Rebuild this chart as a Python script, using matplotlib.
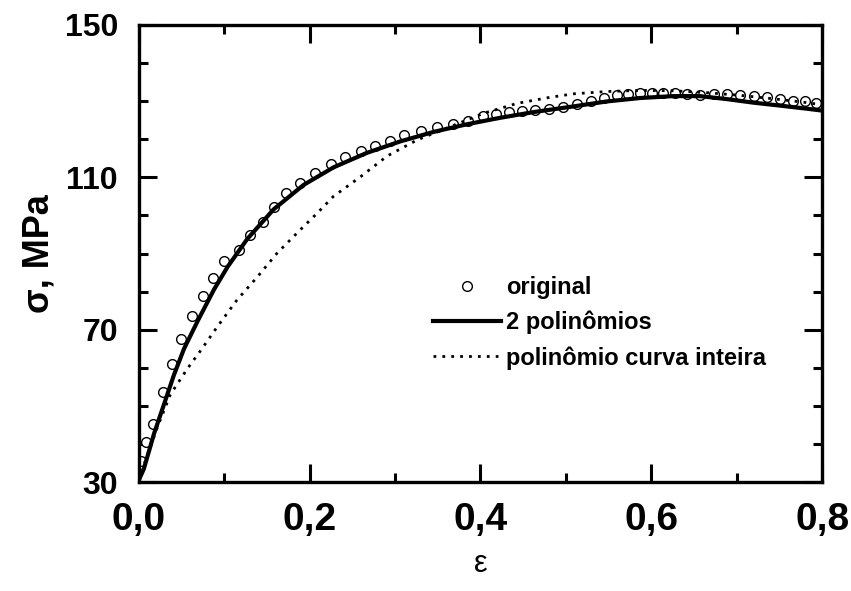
import matplotlib
matplotlib.use("Agg")
import matplotlib.pyplot as plt
from matplotlib.ticker import MultipleLocator, FuncFormatter

plt.rcParams['font.family'] = ['Liberation Sans', 'DejaVu Sans']
plt.rcParams['font.weight'] = 'bold'

# curva tensão-deformação medida
eps_orig = [0.003, 0.009, 0.017, 0.028, 0.039, 0.050, 0.062, 0.075, 0.087, 0.100,
            0.117, 0.130, 0.145, 0.158, 0.172, 0.189, 0.206, 0.225, 0.242, 0.260,
            0.277, 0.294, 0.311, 0.331, 0.349, 0.368, 0.386, 0.403, 0.418, 0.433,
            0.449, 0.464, 0.480, 0.497, 0.513, 0.529, 0.545, 0.560, 0.573, 0.587,
            0.601, 0.614, 0.628, 0.642, 0.657, 0.673, 0.689, 0.704, 0.720, 0.735,
            0.751, 0.766, 0.780, 0.793]
sig_orig = [35.5, 40.5, 45.4, 53.6, 61.0, 67.5, 73.7, 78.9, 83.7, 88.0,
            90.9, 94.8, 98.4, 102.3, 106.0, 108.5, 111.2, 113.4, 115.4, 116.8,
            118.2, 119.6, 121.0, 122.1, 123.1, 124.0, 124.9, 126.0, 126.7, 127.0,
            127.3, 127.6, 128.0, 128.5, 129.2, 129.9, 130.7, 131.5, 131.8, 132.0,
            132.1, 132.1, 132.1, 131.9, 131.6, 131.9, 131.9, 131.6, 131.4, 131.0,
            130.5, 130.1, 129.9, 129.6]

# ajuste com 2 polinômios
eps_2pol = [0.0, 0.006, 0.018, 0.030, 0.041, 0.053, 0.069, 0.088, 0.104, 0.127,
            0.158, 0.193, 0.228, 0.267, 0.306, 0.345, 0.384, 0.423, 0.462, 0.509,
            0.548, 0.587, 0.626, 0.657, 0.689, 0.719, 0.751, 0.782, 0.800]
sig_2pol = [30.5, 33.5, 42.8, 50.7, 58.0, 65.0, 72.3, 80.5, 86.5, 93.8,
            101.6, 108.0, 112.6, 116.4, 119.4, 121.9, 123.9, 125.6, 127.1, 128.6,
            129.9, 130.8, 131.3, 131.3, 130.5, 129.6, 128.8, 128.0, 127.5]

# ajuste com um polinômio para a curva inteira
eps_1pol = [0.0, 0.004, 0.022, 0.037, 0.057, 0.073, 0.092, 0.115, 0.139, 0.162,
            0.189, 0.209, 0.228, 0.260, 0.291, 0.326, 0.365, 0.404, 0.443, 0.482,
            0.509, 0.548, 0.587, 0.626, 0.665, 0.704, 0.743, 0.782, 0.800]
sig_1pol = [30.5, 33.2, 44.5, 53.0, 59.8, 64.7, 70.8, 77.8, 83.9, 90.1,
            96.2, 100.6, 105.0, 110.2, 115.6, 119.8, 123.3, 126.8, 129.4, 131.0,
            131.9, 132.5, 132.8, 132.7, 132.2, 131.5, 130.6, 129.6, 129.0]

y_ticks = [30, 70, 110, 150]

fig = plt.figure(figsize=(8.51, 5.91), dpi=100)
ax = fig.add_axes([0.163, 0.184, 0.803, 0.774])

ax.plot(eps_orig, sig_orig, 'o', mfc='white', mec='black', ms=7, mew=1.0,
        label='original', zorder=2)
ax.plot(eps_2pol, sig_2pol, '-', color='black', lw=3, label='2 polinômios', zorder=3)
ax.plot(eps_1pol, sig_1pol, color='black', lw=2, ls=(0, (1, 2.2)),
        label='polinômio curva inteira', zorder=3)

ax.set_xlim(0, 0.8)
ax.set_ylim(30, 150)
ax.xaxis.set_major_locator(MultipleLocator(0.2))
ax.xaxis.set_minor_locator(MultipleLocator(0.1))
ax.set_yticks(y_ticks)
ax.yaxis.set_minor_locator(MultipleLocator(10))
ax.xaxis.set_major_formatter(FuncFormatter(lambda v, p: f'{v:.1f}'.replace('.', ',')))

ax.tick_params(which='both', direction='in', top=True, right=True, width=2.2)
ax.tick_params(which='major', length=13)
ax.tick_params(which='minor', length=6.5)
ax.tick_params(axis='x', which='major', labelsize=28, pad=14)
ax.tick_params(axis='y', which='major', labelsize=23, pad=15)
for s in ax.spines.values():
    s.set_linewidth(2.4)

ax.set_xlabel('ε', fontsize=22, fontweight='normal', labelpad=8)
ax.set_ylabel('σ, MPa', fontsize=26, fontweight='bold', labelpad=6)

ax.legend(loc='upper left', bbox_to_anchor=(0.43, 0.451), frameon=False,
          fontsize=17, handlelength=2.9, handletextpad=0.2, labelspacing=0.5,
          borderaxespad=0, borderpad=0)

fig.savefig('out.png', dpi=100)
